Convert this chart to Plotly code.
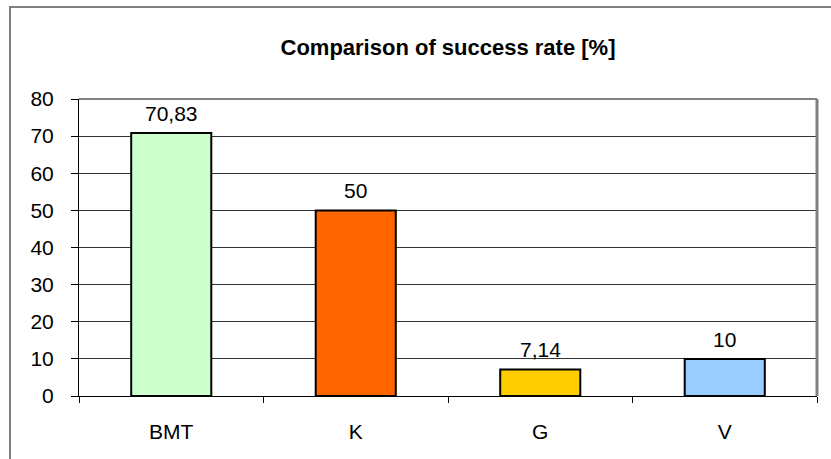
import plotly.graph_objects as go

categories = ["BMT", "K", "G", "V"]
values = [70.83, 50, 7.14, 10]
labels = ["70,83", "50", "7,14", "10"]
colors = ["#CCFFCC", "#FF6600", "#FFCC00", "#99CCFF"]

FONT = "Liberation Sans, Arial"

fig = go.Figure(go.Bar(
    x=categories, y=values,
    marker=dict(color=colors, line=dict(color="black", width=2)),
    width=0.434,
))

for c, v, t in zip(categories, values, labels):
    fig.add_annotation(x=c, y=v, text=t, showarrow=False, yanchor="bottom",
                       yshift=6, font=dict(family=FONT, size=21, color="black"))

L, R, T, B = 79, 14, 99, 63
W, H = 831, 459
pw, ph = W - L - R, H - T - B

def px(x):
    return (x - L) / pw

def py(y):
    return (H - B - y) / ph

fig.update_layout(
    width=W, height=H,
    margin=dict(l=L, r=R, t=T, b=B),
    paper_bgcolor="white", plot_bgcolor="white",
    showlegend=False,
    font=dict(family=FONT, size=21, color="black"),
    title=dict(text="<b>Comparison of success rate [%]</b>", x=px(448), xref="paper",
               xanchor="center", y=1 - 47 / H, yanchor="middle",
               font=dict(size=22, family=FONT)),
    bargap=0.566,
    xaxis=dict(showline=True, linecolor="black", linewidth=1, ticks="outside",
               tickson="boundaries", ticklen=6, tickcolor="black",
               ticklabelstandoff=17, showgrid=False, fixedrange=True),
    yaxis=dict(range=[0, 80], dtick=10, showline=True, linecolor="black", linewidth=1,
               ticks="outside", ticklen=7, tickcolor="black", ticklabelstandoff=13,
               showgrid=True, gridcolor="#333333", gridwidth=1, zeroline=False,
               fixedrange=True),
    shapes=[
        dict(type="rect", xref="paper", yref="paper", x0=px(10), x1=px(840), y0=py(470), y1=py(7),
             line=dict(color="#808080", width=2), fillcolor="rgba(0,0,0,0)", layer="below"),
        dict(type="line", xref="paper", yref="paper", x0=0, x1=1, y0=1, y1=1,
             line=dict(color="#808080", width=2)),
        dict(type="line", xref="paper", yref="paper", x0=1, x1=1, y0=0, y1=1,
             line=dict(color="#808080", width=3)),
    ],
)

fig.write_html("out.html", config={"displayModeBar": False},
               post_script="document.body.style.margin='0';")
